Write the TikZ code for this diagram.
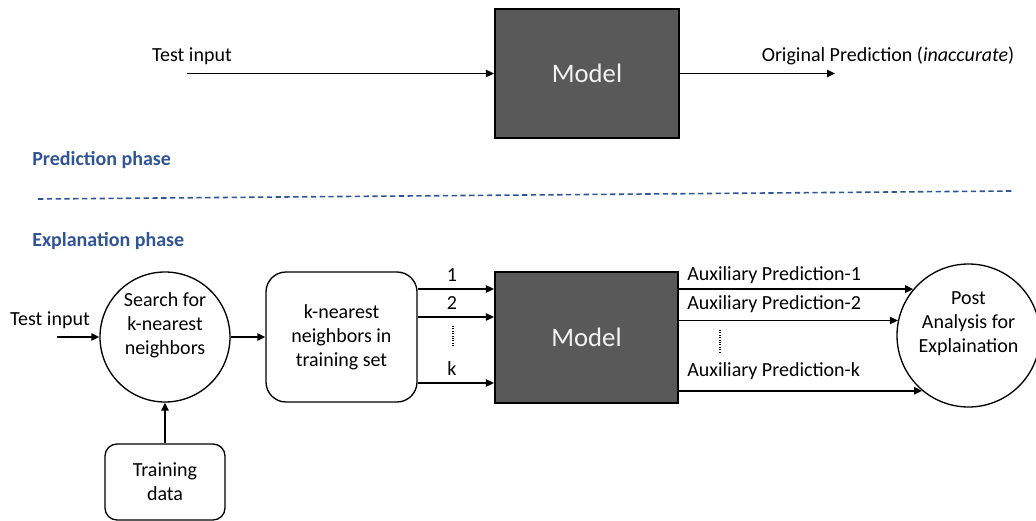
\documentclass[tikz,border=0pt]{standalone}
\usepackage{fontspec}
\setmainfont{Carlito}
\usetikzlibrary{
  arrows.meta,
  positioning,
  calc
}
\definecolor{xpPhase}{HTML}{2F5597}
\definecolor{xpModel}{HTML}{595959}
\definecolor{xpModelText}{HTML}{F2F2F2}

\tikzset{
  flow/.style={-{Triangle[length=6pt,width=5.5pt]}, line width=1.1pt},
  modelbox/.style={draw=black, line width=1.6pt, fill=xpModel, text=xpModelText,
    font=\fontsize{20}{24}\selectfont},
  block/.style={draw=black, line width=1pt, align=center, inner sep=0pt},
  hub/.style={circle, draw=black, line width=1pt, align=center, inner sep=0pt},
  hubtext/.style={label={[align=center, yshift=8.5pt]center:#1}},
  phase/.style={text=xpPhase, font=\fontsize{15}{18}\selectfont\bfseries, inner sep=0pt},
  gap/.style={densely dotted, line width=0.8pt}
}

\begin{document}
\begin{tikzpicture}[x=0.75pt, y=-0.75pt, font=\fontsize{15}{18}\selectfont]
  \useasboundingbox (0,0) rectangle (1036,521);

  % prediction phase
  \node[modelbox, minimum width=138pt, minimum height=96.75pt] (model1) at (587,73.5) {Model};
  \coordinate (in1) at (187,73.5);
  \coordinate (out1) at (835,73.5);
  \draw[flow] (in1) -- (model1.west);
  \draw[flow] (model1.east) -- (out1);
  \node (lblin1) at (192,56) {Test input};
  \node (lblout1) at (888,56) {Original Prediction (\textit{inaccurate})};

  \node[phase, anchor=west] (predphase) at (32,160) {Prediction phase};
  \draw[xpPhase, line width=1.2pt, dash pattern=on 4pt off 2.6pt] (38,199) -- (1012,191);
  \node[phase, anchor=west] (explphase) at (32,241) {Explanation phase};

  % explanation phase
  \node[hub, minimum size=97.5pt, hubtext={Search for\\k-nearest\\neighbors}] (search) at (165,337) {};
  \node[block, minimum width=113.25pt, minimum height=97.5pt, rounded corners=15pt] (knn) at (341.5,337) {k-nearest\\neighbors in\\training set};
  \node[block, minimum width=90pt, minimum height=57pt, rounded corners=9pt] (train) at (165,482) {Training\\data};
  \node[modelbox, minimum width=137.25pt, minimum height=98.25pt] (model2) at (586.5,337.5) {Model};
  \node[hub, minimum size=107.25pt, hubtext={Post\\Analysis for\\Explaination}] (post) at (968.5,335.5) {};

  \coordinate (in2) at (57,337);
  \draw[flow] (in2) -- (search.west);
  \node (lblin2) at (50,320) {Test input};
  \draw[flow] (search.east) -- (knn.west);
  \draw[flow] (train.north) -- (search.south);

  % the k neighbours fed to the model
  \foreach \y/\n in {289/1, 317/2, 383/k}{
    \draw[flow] (knn.east |- 0,\y) -- (model2.west |- 0,\y);
    \node at (452,\y-14) {\n};
  }
  \draw[gap] (453,326) -- (453,347);

  % auxiliary predictions into the post analysis
  \foreach \a/\y/\n in {140/275/1, 168/304/2, 230/371/k}{
    \draw[flow] (model2.east |- post.\a) -- (post.\a);
    \node[anchor=west, inner sep=0pt] at (687,\y) {Auxiliary Prediction-\n};
  }
  \draw[gap] (720,330) -- (720,352);
\end{tikzpicture}
\end{document}
